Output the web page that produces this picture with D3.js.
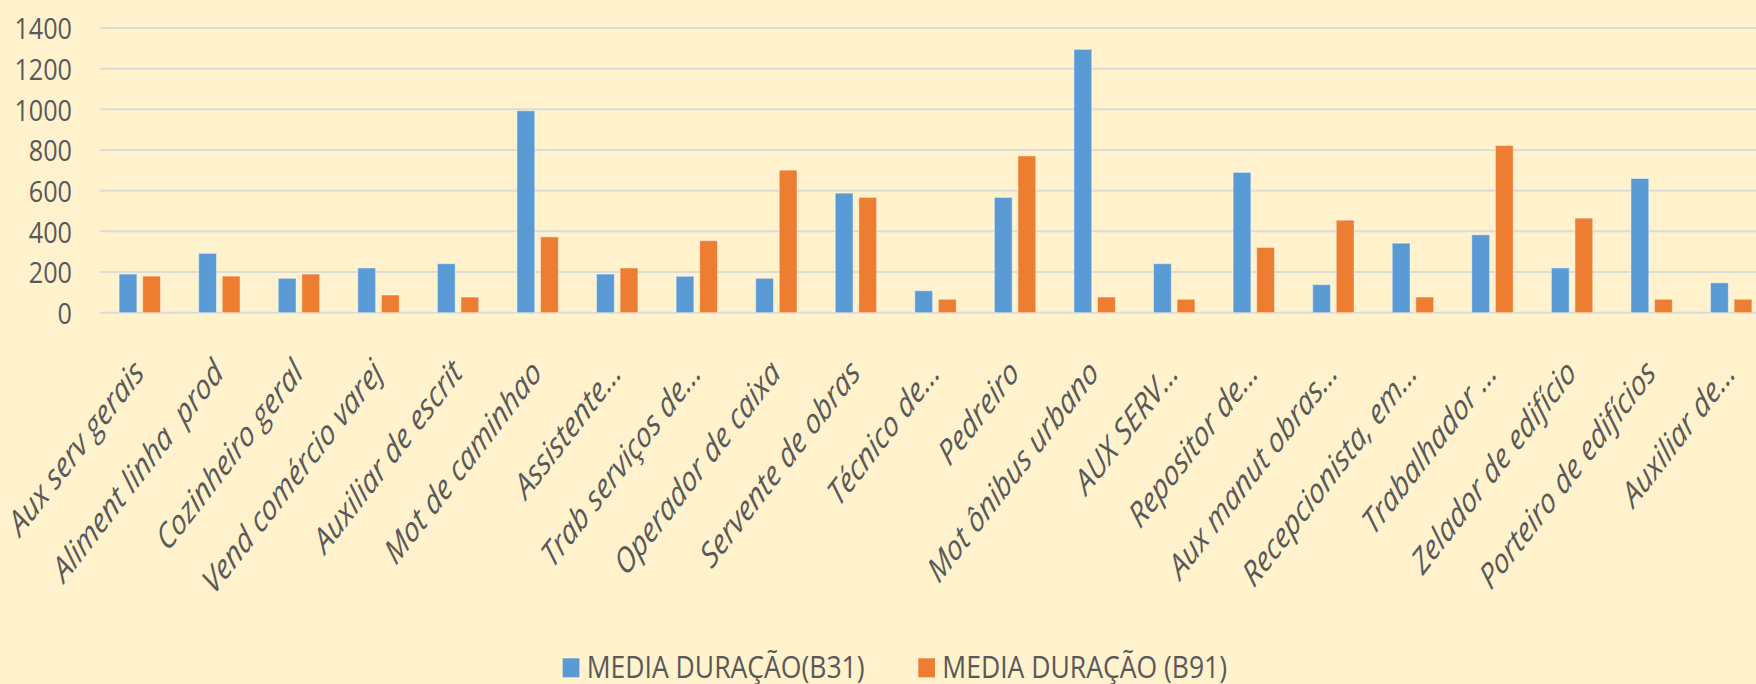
<!DOCTYPE html>
<html>
<head>
<meta charset="utf-8">
<script src="https://cdn.jsdelivr.net/npm/d3@7"></script>
<style>
  html, body { margin: 0; padding: 0; background: #FFF2CC; overflow: hidden; }
  svg { display: block; }
  text { font-family: "Open Sans", "Noto Sans", sans-serif; fill: #595959; }
</style>
</head>
<body>
<svg id="chart" width="1756" height="684"></svg>
<script>
const categories = ["Aux serv gerais","Aliment linha  prod","Cozinheiro geral","Vend comércio varej","Auxiliar de escrit","Mot de caminhao","Assistente...","Trab serviços de...","Operador de caixa","Servente de obras","Técnico de...","Pedreiro","Mot ônibus urbano","AUX SERV...","Repositor de...","Aux manut obras...","Recepcionista, em...","Trabalhador ...","Zelador de edifício","Porteiro de edifícios","Auxiliar de..."];
const seriesNames = ["MEDIA DURAÇÃO(B31)", "MEDIA DURAÇÃO (B91)"];
const b31 = [190,292,169,220,241,993,190,179,169,588,108,567,1295,241,690,138,342,383,220,660,147];
const b91 = [180,180,190,87,77,373,220,354,701,567,66,771,77,66,321,455,77,822,465,66,66];
const yTicks = [0,200,400,600,800,1000,1200,1400];
const colors = ["#5B9BD5", "#ED7D31"];

const svg = d3.select("#chart");
const SX = 0.84;   // horizontal text compression (axis)
const SXL = 0.77;  // horizontal compression of rotated labels

const x0 = d3.scaleBand().domain(categories).range([100, 1771]).paddingInner(0.48).paddingOuter(0.24);
const x1 = d3.scaleBand().domain([0,1]).range([0, x0.bandwidth()]).paddingInner(0.245);
const y = d3.scaleLinear().domain([0,1400]).range([312.7, 28]);

// gridlines
svg.append("g").selectAll("line").data(yTicks).join("line")
  .attr("x1", 100).attr("x2", 1771)
  .attr("y1", d => y(d)).attr("y2", d => y(d))
  .attr("stroke", "#DCDCD6").attr("stroke-width", 2);

// y axis labels
const yAxis = d3.axisLeft(y).tickValues(yTicks).tickSize(0).tickPadding(0).tickFormat(d3.format("d"));
const yg = svg.append("g").attr("transform", "translate(72,0)").call(yAxis);
yg.select(".domain").remove();
yg.selectAll(".tick text")
  .attr("x", 0).attr("dy", "0.36em")
  .attr("transform", `scale(${SX},1)`)
  .style("font-size", "30px").style("font-family", "'Open Sans', sans-serif").attr("fill", "#595959");

// bars
const series = [b31, b91];
const groups = svg.append("g").selectAll("g").data(categories).join("g")
  .attr("transform", d => `translate(${x0(d)},0)`);
groups.selectAll("rect").data((d, i) => series.map((s, k) => ({k, v: s[i]}))).join("rect")
  .attr("x", d => x1(d.k))
  .attr("width", x1.bandwidth())
  .attr("y", d => y(d.v))
  .attr("height", d => y(0) - y(d.v))
  .attr("fill", d => colors[d.k])
  .attr("stroke", "rgba(255,255,255,0.45)").attr("stroke-width", 1);

// x labels
svg.append("g").selectAll("text").data(categories).join("text")
  .attr("transform", d => `translate(${x0(d) + x0.bandwidth()/2 - 1},366) scale(${SXL},1) rotate(-45)`)
  .attr("text-anchor", "end")
  .attr("dy", "0.35em")
  .style("font-size", "35px").style("font-style", "italic").style("white-space", "pre")
  .text(d => d);

// legend
const legendX = [562.7, 918.3];
const leg = svg.append("g").selectAll("g").data(seriesNames).join("g")
  .attr("transform", (d, i) => `translate(${legendX[i]},0)`);
leg.append("rect").attr("x", 0).attr("y", 658.3).attr("width", 16.7).attr("height", 19)
  .attr("fill", (d, i) => colors[i]);
leg.append("text").attr("transform", `translate(24,678) scale(0.87,1)`)
  .style("font-size", "30.5px").text(d => d);
</script>
</body>
</html>
